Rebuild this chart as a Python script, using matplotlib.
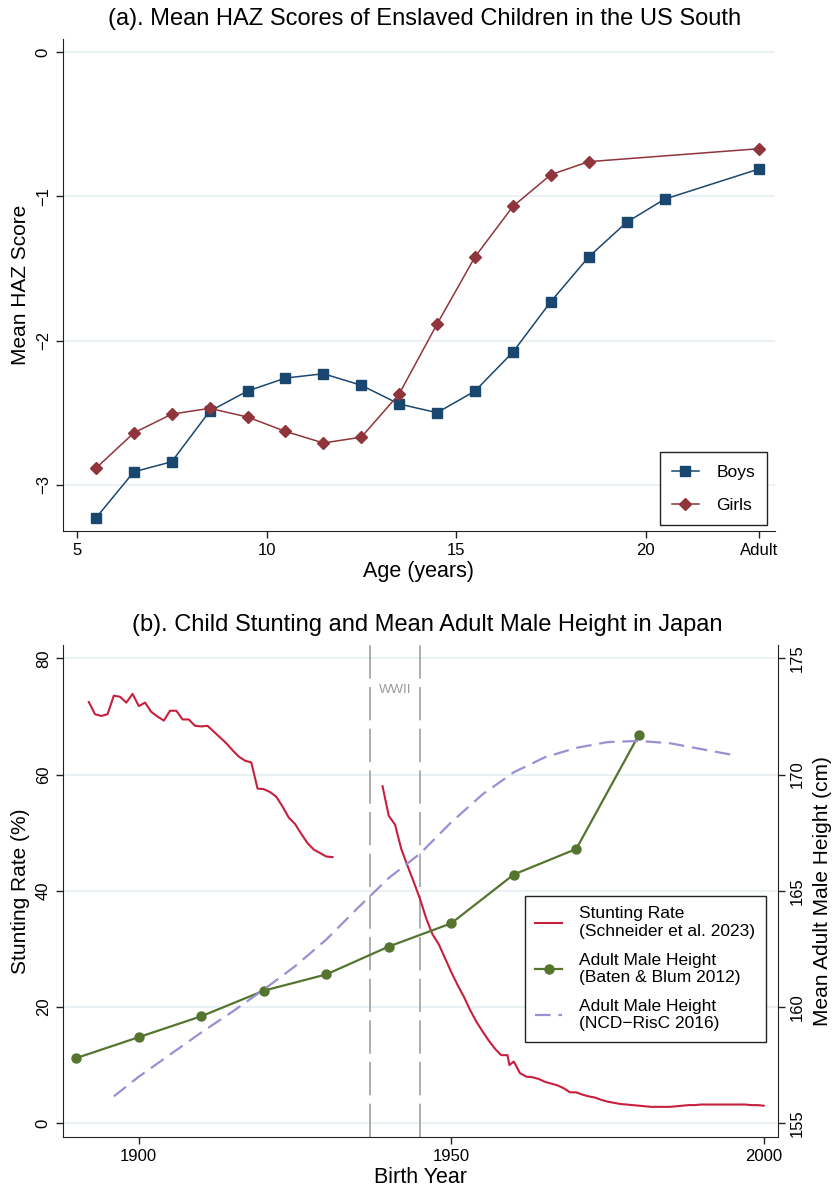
import matplotlib
matplotlib.use('Agg')
import matplotlib.pyplot as plt

plt.rcParams['font.family'] = ['Liberation Sans', 'DejaVu Sans']

# ---- panel (a): mean HAZ by age ----
boys_age = [5.5, 6.5, 7.5, 8.5, 9.5, 10.5, 11.5, 12.5, 13.5, 14.5, 15.5, 16.5, 17.5, 18.5, 19.5, 20.5, 23]
boys_haz = [-3.23, -2.91, -2.84, -2.49, -2.35, -2.26, -2.23, -2.31, -2.44, -2.50, -2.35, -2.08, -1.73, -1.42, -1.18, -1.02, -0.81]
girls_age = [5.5, 6.5, 7.5, 8.5, 9.5, 10.5, 11.5, 12.5, 13.5, 14.5, 15.5, 16.5, 17.5, 18.5, 23]
girls_haz = [-2.885, -2.64, -2.51, -2.47, -2.53, -2.63, -2.71, -2.67, -2.37, -1.885, -1.42, -1.07, -0.85, -0.76, -0.67]
age_ticks = [5, 10, 15, 20, 23]
age_labels = ['5', '10', '15', '20', 'Adult']
haz_ticks = [0, -1, -2, -3]

# ---- panel (b): Japan ----
stunt_years_pre = list(range(1892, 1932))
stunt_pre = [72.5, 70.4, 70.1, 70.4, 73.6, 73.4, 72.4, 73.9, 71.8, 72.4,
             70.8, 70.0, 69.3, 71.0, 71.0, 69.5, 69.5, 68.4, 68.3, 68.4,
             67.4, 66.4, 65.4, 64.2, 63.1, 62.4, 62.1, 57.6, 57.5, 57.0,
             56.2, 54.5, 52.6, 51.5, 49.8, 48.2, 47.1, 46.5, 45.9, 45.8]
stunt_years_post = [1939, 1940, 1941, 1942, 1943, 1944, 1945, 1946, 1947, 1948,
                    1949, 1950, 1951, 1952, 1953, 1954, 1955, 1956, 1957, 1958,
                    1959, 1959.3, 1960, 1961, 1962, 1963, 1964, 1965, 1966, 1967,
                    1968, 1969, 1970, 1971, 1972, 1973, 1974, 1975, 1976, 1977,
                    1978, 1979, 1980, 1981, 1982, 1983, 1984, 1985, 1986, 1987,
                    1988, 1989, 1990, 1991, 1992, 1993, 1994, 1995, 1996, 1997,
                    1998, 1999, 2000]
stunt_post = [58.0, 52.9, 51.4, 47.2, 44.3, 41.5, 38.6, 35.2, 32.5, 30.8,
              28.4, 26.0, 23.8, 21.8, 19.5, 17.5, 15.8, 14.2, 12.8, 11.7,
              11.7, 10.0, 10.6, 8.6, 8.0, 7.9, 7.6, 7.1, 6.8, 6.5,
              6.0, 5.3, 5.3, 4.9, 4.6, 4.4, 4.0, 3.7, 3.5, 3.3,
              3.2, 3.1, 3.0, 2.9, 2.8, 2.8, 2.8, 2.8, 2.9, 3.0,
              3.1, 3.1, 3.2, 3.2, 3.2, 3.2, 3.2, 3.2, 3.2, 3.2,
              3.1, 3.1, 3.0]
baten_years = [1890, 1900, 1910, 1920, 1930, 1940, 1950, 1960, 1970, 1980]
baten_cm = [157.8, 158.7, 159.6, 160.7, 161.4, 162.6, 163.6, 165.7, 166.8, 171.7]
ncd_years = [1896, 1900, 1905, 1910, 1915, 1920, 1925, 1930, 1935, 1940, 1945,
             1950, 1955, 1960, 1965, 1970, 1975, 1980, 1985, 1990, 1995]
ncd_cm = [156.15, 157.0, 157.95, 158.9, 159.8, 160.75, 161.75, 162.9, 164.25, 165.55, 166.6,
          167.95, 169.15, 170.1, 170.75, 171.15, 171.4, 171.45, 171.35, 171.1, 170.85]
ww2 = [1937, 1945]
stunt_ticks = [0, 20, 40, 60, 80]
cm_ticks = [155, 160, 165, 170, 175]
year_ticks = [1900, 1950, 2000]

navy = '#1a476f'
maroon = '#90353b'
red = '#c8203c'
green = '#55752f'
lav = '#9a8fd3'
gridc = '#e6eff2'
spc = '#222222'

fig = plt.figure(figsize=(8.32, 11.9), dpi=100)

# ===== top =====
ax = fig.add_axes([0.0752, 0.5538, 0.8557, 0.4134])
ax.plot(boys_age, boys_haz, color=navy, lw=1.1, marker='s', ms=6.5, label='Boys', zorder=3)
ax.plot(girls_age, girls_haz, color=maroon, lw=1.1, marker='D', ms=6.5, label='Girls', zorder=3)
ax.set_xlim(4.62, 23.4)
ax.set_ylim(-3.32, 0.09)
ax.set_xticks(age_ticks)
ax.set_xticklabels(age_labels)
ax.set_yticks(haz_ticks)
ax.set_yticklabels(['0', '\u22121', '\u22122', '\u22123'], rotation=90, va='center')
ax.grid(axis='y', color=gridc, lw=1.2)
ax.set_axisbelow(True)
for s in ['top', 'right']:
    ax.spines[s].set_visible(False)
for s in ['left', 'bottom']:
    ax.spines[s].set_color(spc)
ax.tick_params(length=5, width=1, labelsize=12, color=spc)
ax.set_title('(a). Mean HAZ Scores of Enslaved Children in the US South', fontsize=17, pad=10, x=0.509)
ax.set_xlabel('Age (years)', fontsize=15.5, labelpad=2)
ax.set_ylabel('Mean HAZ Score', fontsize=15, labelpad=4)
leg = ax.legend(loc='lower right', bbox_to_anchor=(0.99, 0.012), fontsize=12.5,
                fancybox=False, edgecolor=spc, framealpha=1, borderpad=0.71,
                borderaxespad=0, handlelength=1.55, handletextpad=1.0, labelspacing=1.02)
leg.get_frame().set_linewidth(1.0)

# ===== bottom =====
bx = fig.add_axes([0.0752, 0.0445, 0.860, 0.4134])
ylo, yhi = -2.4, 82.3
bx.set_xlim(1887.8, 2002.3)
bx.set_ylim(ylo, yhi)
bx.plot(stunt_years_pre, stunt_pre, color=red, lw=1.5, label='Stunting Rate\n(Schneider et al. 2023)', zorder=3)
bx.plot(stunt_years_post, stunt_post, color=red, lw=1.5, zorder=3)
for w in ww2:
    vl = bx.axvline(w, color='#a0a0a0', lw=1.2, zorder=2)
    vl.set_dashes((20, 5))
bx.text(sum(ww2) / 2, 74.6, 'WWII', color='#9a9a9a', fontsize=9.5, ha='center', va='center')
bx.set_yticks(stunt_ticks)
bx.set_yticklabels([str(t) for t in stunt_ticks], rotation=90, va='center')
bx.set_xticks(year_ticks)
bx.grid(axis='y', color=gridc, lw=1.2)
bx.set_axisbelow(True)
bx.spines['top'].set_visible(False)
bx.spines['right'].set_visible(False)
for s in ['left', 'bottom']:
    bx.spines[s].set_color(spc)
bx.tick_params(length=5, width=1, labelsize=12, color=spc)
bx.set_title('(b). Child Stunting and Mean Adult Male Height in Japan', fontsize=17, pad=10, x=0.509)
bx.set_xlabel('Birth Year', fontsize=15.5, labelpad=2)
bx.set_ylabel('Stunting Rate (%)', fontsize=15, labelpad=4)

bx2 = bx.twinx()
bx2.set_ylim(155 + ylo / 4, 155 + yhi / 4)
bx2.plot(baten_years, baten_cm, color=green, lw=1.6, marker='o', ms=6.5,
         label='Adult Male Height\n(Baten & Blum 2012)', zorder=3)
ncd, = bx2.plot(ncd_years, ncd_cm, color=lav, lw=1.6, label='Adult Male Height\n(NCD\u2212RisC 2016)', zorder=3)
ncd.set_dashes((7, 3.5))
bx2.set_yticks(cm_ticks)
bx2.set_yticklabels([str(t) for t in cm_ticks], rotation=90, va='center')
bx2.spines['top'].set_visible(False)
bx2.spines['left'].set_visible(False)
bx2.spines['bottom'].set_visible(False)
bx2.spines['right'].set_color(spc)
bx2.tick_params(length=5, width=1, labelsize=12, color=spc)
bx2.set_ylabel('Mean Adult Male Height (cm)', fontsize=15, labelpad=6)

h1, l1 = bx.get_legend_handles_labels()
h2, l2 = bx2.get_legend_handles_labels()
leg2 = bx2.legend(h1 + h2, l1 + l2, loc='upper left', bbox_to_anchor=(0.646, 0.49),
                  fontsize=12.5, fancybox=False, edgecolor=spc, framealpha=1,
                  borderpad=0.6, borderaxespad=0, handlelength=1.55, handletextpad=1.0,
                  labelspacing=0.8)
leg2.get_frame().set_linewidth(1.0)

fig.savefig('out.png', dpi=100)
